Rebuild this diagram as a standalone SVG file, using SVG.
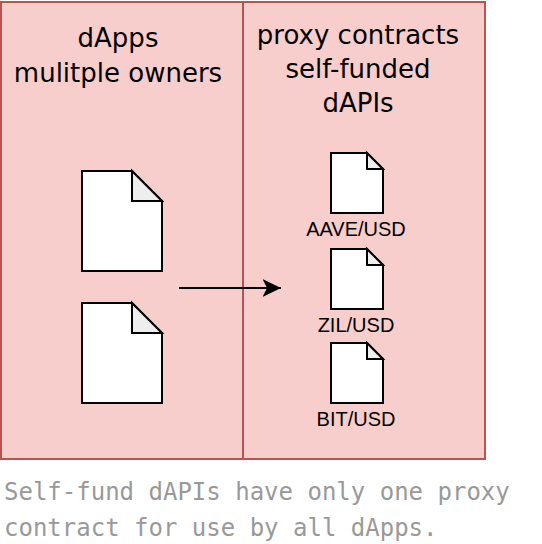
<svg xmlns="http://www.w3.org/2000/svg" width="542" height="544" viewBox="0 0 542 544">
<defs><style>
.pane{fill:#f8cecc;stroke:#b85450;stroke-width:2}
.doc{fill:#fff;stroke:#000;stroke-width:2;stroke-linejoin:miter}
.fold{fill:#eee;stroke:#000;stroke-width:2;stroke-linejoin:miter}
.h{font-family:"DejaVu Sans",sans-serif;font-size:26px;fill:#000;text-anchor:middle}
.l{font-family:"Liberation Sans",Arial,sans-serif;font-size:20px;fill:#000;text-anchor:middle}
.c{font-family:"DejaVu Sans Mono",monospace;font-size:24px;fill:#999}
</style>
<marker id="a" markerWidth="19" markerHeight="18" refX="18.5" refY="9" orient="auto" markerUnits="userSpaceOnUse"><path d="M0 0L18.5 9L0 18L4.5 9Z" fill="#000"/></marker>
</defs>
<g id="pane-dapps"><rect class="pane" x="1" y="2" width="242" height="457"/><text class="h" x="118" y="47">dApps</text><text class="h" x="118" y="82">mulitple owners</text></g>
<g id="pane-proxy"><rect class="pane" x="243" y="2" width="242" height="457"/><text class="h" x="358" y="44">proxy contracts</text><text class="h" x="358" y="78">self-funded</text><text class="h" x="358" y="112">dAPIs</text></g>
<g id="doc-1"><path class="doc" d="M82 171H132L162 201V271H82Z"/><path class="fold" d="M132 171V201H162Z"/></g>
<g id="doc-2"><path class="doc" d="M82 303H132L162 333V403H82Z"/><path class="fold" d="M132 303V333H162Z"/></g>
<g id="doc-aave"><path class="doc" d="M331 153H367L383 169V213H331Z"/><path class="fold" d="M367 153V169H383Z"/><text class="l" x="356" y="236">AAVE/USD</text></g>
<g id="doc-zil"><path class="doc" d="M331 249H367L383 265V309H331Z"/><path class="fold" d="M367 249V265H383Z"/><text class="l" x="356" y="332">ZIL/USD</text></g>
<g id="doc-bit"><path class="doc" d="M331 343H367L383 359V403H331Z"/><path class="fold" d="M367 343V359H383Z"/><text class="l" x="356" y="426">BIT/USD</text></g>
<g id="connectors"><path d="M179 288H281" fill="none" stroke="#000" stroke-width="2" marker-end="url(#a)"/></g>
<g id="caption"><text class="c" x="4" y="500">Self-fund dAPIs have only one proxy</text><text class="c" x="4" y="536">contract for use by all dApps.</text></g>
</svg>
